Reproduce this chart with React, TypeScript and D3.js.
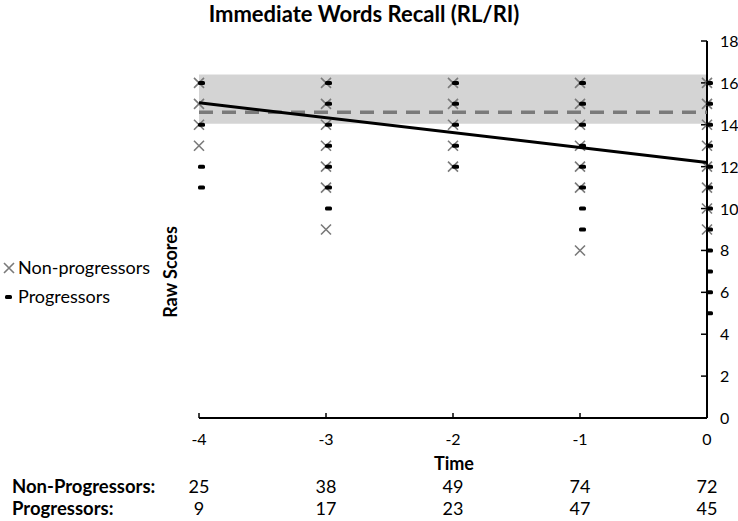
import React from 'react';
import * as d3 from 'd3';

// time points (years before last visit)
const times = [-4, -3, -2, -1, 0];
const yTicks = [0, 2, 4, 6, 8, 10, 12, 14, 16, 18];

// raw scores observed per time point
const nonProgScores = [
  [16, 15, 14, 13],
  [16, 15, 14, 13, 12, 11, 9],
  [16, 15, 14, 13, 12],
  [16, 15, 14, 13, 12, 11, 8],
  [16, 15, 14, 13, 12, 11, 10, 9],
];
const progScores = [
  [16, 14, 12, 11],
  [16, 15, 14, 13, 12, 11, 10],
  [16, 15, 14, 13, 12],
  [16, 15, 14, 13, 12, 11, 10, 9],
  [16, 15, 14, 13, 12, 11, 10, 9, 8, 7, 6, 5],
];

// non-progressor reference band and mean, progressor trend
const bandRange = [14.05, 16.4];
const nonProgMean = 14.6;
const progTrend = [15.05, 12.2]; // at time -4 and 0

const nonProgCounts = [25, 38, 49, 74, 72];
const progCounts = [9, 17, 23, 47, 45];

const FONT = 'Lato, "Open Sans", sans-serif';

export default function App() {
  const width = 738;
  const height = 521;
  const x = d3.scaleLinear().domain([-4, 0]).range([199, 707]);
  const y = d3.scaleLinear().domain([0, 18]).range([418, 41]);

  const xPts = times.flatMap((t, i) => nonProgScores[i].map((v) => ({ t, v })));
  const pPts = times.flatMap((t, i) => progScores[i].map((v) => ({ t, v })));

  const trendLine = d3.line<number>()
    .x((d, i) => x(i === 0 ? -4 : 0))
    .y((d) => y(d))(progTrend);

  const cross = (cx: number, cy: number, s: number, key: string) => (
    <path key={key} d={`M${cx - s},${cy - s}L${cx + s},${cy + s}M${cx - s},${cy + s}L${cx + s},${cy - s}`}
      stroke="#7a7a7a" strokeWidth={1.6} fill="none" />
  );

  return (
    <svg width={width} height={height} style={{ position: 'absolute', left: 0, top: 0 }}>
      <rect width={width} height={height} fill="#fff" />
      <text x={364} y={22} textAnchor="middle" fontFamily={FONT} fontWeight="bold" fontSize={22}>
        Immediate Words Recall (RL/RI)
      </text>

      {/* band */}
      <rect x={x(-4)} width={x(0) - x(-4)} y={y(bandRange[1])} height={y(bandRange[0]) - y(bandRange[1])} fill="#d4d4d4" />

      {/* axes */}
      <line x1={x(-4)} x2={x(0)} y1={y(0)} y2={y(0)} stroke="#000" strokeWidth={2} />
      {times.map((t) => (
        <line key={'xt' + t} x1={x(t)} x2={x(t)} y1={y(0)} y2={y(0) - 5} stroke="#000" strokeWidth={1.5} />
      ))}
      <line x1={x(0)} x2={x(0)} y1={y(18)} y2={y(0)} stroke="#000" strokeWidth={2} />
      {yTicks.map((v) => (
        <g key={'yt' + v}>
          <line x1={x(0) - 6} x2={x(0)} y1={y(v)} y2={y(v)} stroke="#000" strokeWidth={1.5} />
          <text x={x(0) + 13} y={y(v) + 6} fontFamily={FONT} fontSize={16}>{v}</text>
        </g>
      ))}
      {times.map((t) => (
        <text key={'xl' + t} x={x(t)} y={445} textAnchor="middle" fontFamily={FONT} fontSize={16}>{t}</text>
      ))}

      {/* markers */}
      {xPts.map((d, i) => cross(x(d.t), y(d.v), 5, 'x' + i))}
      {pPts.map((d, i) => (
        <rect key={'p' + i} x={x(d.t) - 1} y={y(d.v) - 2} width={7} height={4} rx={1.5} fill="#000" />
      ))}

      {/* mean and trend */}
      <line x1={x(-4)} x2={x(0)} y1={y(nonProgMean)} y2={y(nonProgMean)} stroke="#7a7a7a" strokeWidth={3.5} strokeDasharray="14,9" />
      <path d={trendLine || ''} stroke="#000" strokeWidth={3} fill="none" />

      {/* axis titles */}
      <text x={454} y={470} textAnchor="middle" fontFamily={FONT} fontWeight="bold" fontSize={18}>Time</text>
      <text transform="translate(177,272) rotate(-90)" textAnchor="middle" fontFamily={FONT} fontWeight="bold" fontSize={18}>
        Raw Scores
      </text>

      {/* legend */}
      {cross(9, 268, 5, 'lg1')}
      <text x={18} y={274} fontFamily={FONT} fontSize={18}>Non-progressors</text>
      <rect x={5} y={295} width={7} height={4} rx={1.5} fill="#000" />
      <text x={18} y={303} fontFamily={FONT} fontSize={18}>Progressors</text>

      {/* counts table */}
      <text x={12} y={493} fontFamily={FONT} fontWeight="bold" fontSize={18.5}>Non-Progressors:</text>
      <text x={12} y={515} fontFamily={FONT} fontWeight="bold" fontSize={18.5}>Progressors:</text>
      {times.map((t, i) => (
        <g key={'c' + t}>
          <text x={x(t)} y={493} textAnchor="middle" fontFamily={FONT} fontSize={18}>{nonProgCounts[i]}</text>
          <text x={x(t)} y={515} textAnchor="middle" fontFamily={FONT} fontSize={18}>{progCounts[i]}</text>
        </g>
      ))}
    </svg>
  );
}
